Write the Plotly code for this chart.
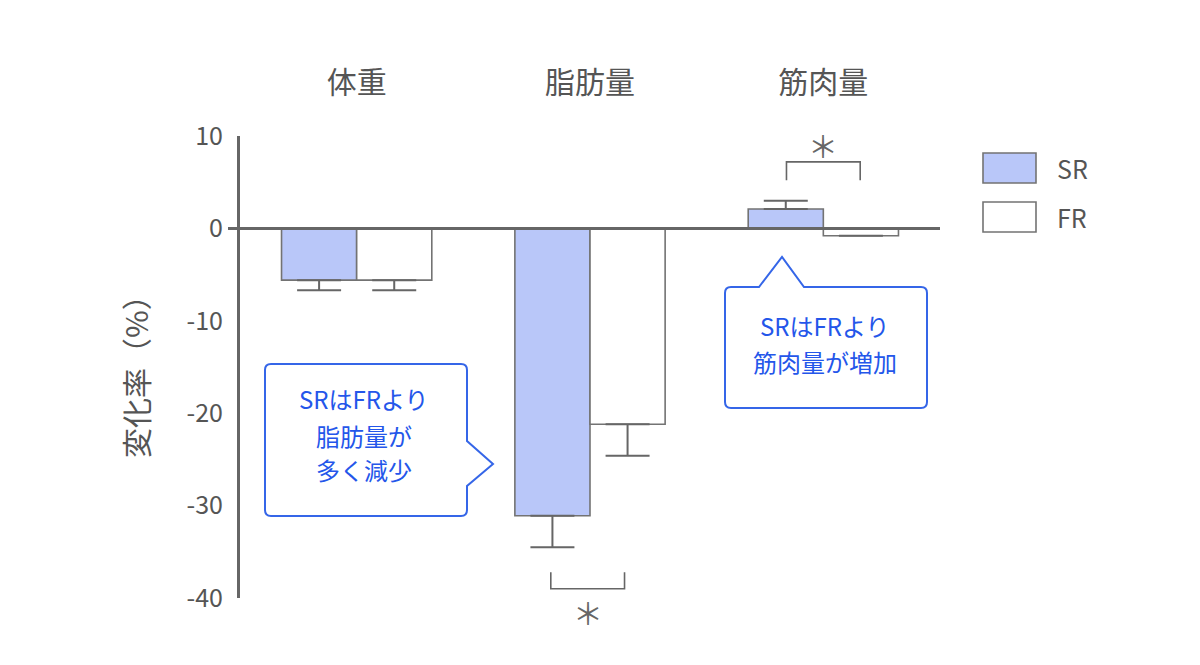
import plotly.graph_objects as go

# ---------------- data ----------------
categories = ["体重", "脂肪量", "筋肉量"]
series_names = ["SR", "FR"]
sr_values = [-5.6, -31.1, 2.1]
fr_values = [-5.6, -21.2, -0.8]
sr_errors = [1.1, 3.4, 0.9]
fr_errors = [1.1, 3.4, 0.0]
y_tick_values = [10, 0, -10, -20, -30, -40]
y_tick_labels = ["10", "0", "-10", "-20", "-30", "-40"]
y_title = "変化率（%）"
callout_fat = ["SRはFRより", "脂肪量が", "多く減少"]
callout_muscle = ["SRはFRより", "筋肉量が増加"]
sig_mark = "＊"

# ---------------- style ----------------
FONT = "Noto Sans CJK JP"
GRAY = "#666666"
TXT = "#555555"
SR_FILL = "#b9c7f9"
EDGE = "#737373"
BLUE_TXT = "#2456ea"
BLUE_LINE = "#3566e8"

OFF = 8  # default page body margin
W, H = 1200 - OFF, 665 - OFF
L, T, B = 240 - OFF, 136 - OFF, 67
PW, PH = 700, 462
R = W - L - PW


def px(x):  # page pixel -> paper
    return (x - OFF - L) / PW


def py(y):
    return (OFF + T + PH - y) / PH


def split_err(vals, errs):
    plus = [e if v >= 0 else 0 for v, e in zip(vals, errs)]
    minus = [e if v < 0 else 0 for v, e in zip(vals, errs)]
    return plus, minus


fig = go.Figure()
for name, vals, errs, fill in [
    (series_names[0], sr_values, sr_errors, SR_FILL),
    (series_names[1], fr_values, fr_errors, "white"),
]:
    plus, minus = split_err(vals, errs)
    fig.add_trace(go.Bar(
        name=name, x=categories, y=vals,
        marker=dict(color=fill, line=dict(color=EDGE, width=1.6)),
        error_y=dict(type="data", symmetric=False, array=plus, arrayminus=minus,
                     color=GRAY, thickness=2, width=22),
    ))

shapes = []
# zero line
shapes.append(dict(type="line", xref="paper", yref="y", x0=px(228), x1=px(940), y0=0, y1=0,
                   line=dict(color=GRAY, width=3), layer="above"))

# significance brackets (category index coordinates)
shapes.append(dict(type="path", xref="x", yref="y",
                   path="M 1.842,5.2 L 1.842,7.2 L 2.158,7.2 L 2.158,5.2",
                   line=dict(color=GRAY, width=1.6)))
shapes.append(dict(type="path", xref="x", yref="y",
                   path="M 0.832,-37.2 L 0.832,-39.0 L 1.148,-39.0 L 1.148,-37.2",
                   line=dict(color=GRAY, width=1.6)))


def pathstr(points):
    out = []
    for cmd, pts in points:
        if cmd == "Z":
            out.append("Z")
        else:
            out.append(cmd + " " + " ".join(f"{px(x):.5f},{py(y):.5f}" for x, y in pts))
    return " ".join(out)


r = 6
# callout 1 (pointer right)
x0, x1, y0, y1 = 265, 467, 364, 516
c1 = [("M", [(x0 + r, y0)]), ("L", [(x1 - r, y0)]), ("Q", [(x1, y0), (x1, y0 + r)]),
      ("L", [(x1, 441)]), ("L", [(493, 464)]), ("L", [(x1, 486)]),
      ("L", [(x1, y1 - r)]), ("Q", [(x1, y1), (x1 - r, y1)]),
      ("L", [(x0 + r, y1)]), ("Q", [(x0, y1), (x0, y1 - r)]),
      ("L", [(x0, y0 + r)]), ("Q", [(x0, y0), (x0 + r, y0)]), ("Z", [])]
shapes.append(dict(type="path", xref="paper", yref="paper", path=pathstr(c1),
                   line=dict(color=BLUE_LINE, width=2), fillcolor="white", layer="above"))
# callout 2 (pointer top)
x0, x1, y0, y1 = 725, 927, 287, 408
c2 = [("M", [(x0 + r, y0)]), ("L", [(759, y0)]), ("L", [(782, 257)]), ("L", [(804, y0)]),
      ("L", [(x1 - r, y0)]), ("Q", [(x1, y0), (x1, y0 + r)]),
      ("L", [(x1, y1 - r)]), ("Q", [(x1, y1), (x1 - r, y1)]),
      ("L", [(x0 + r, y1)]), ("Q", [(x0, y1), (x0, y1 - r)]),
      ("L", [(x0, y0 + r)]), ("Q", [(x0, y0), (x0 + r, y0)]), ("Z", [])]
shapes.append(dict(type="path", xref="paper", yref="paper", path=pathstr(c2),
                   line=dict(color=BLUE_LINE, width=2), fillcolor="white", layer="above"))

# legend boxes
shapes.append(dict(type="rect", xref="paper", yref="paper", x0=px(983), x1=px(1036),
                   y0=py(183), y1=py(153), fillcolor=SR_FILL, line=dict(color=EDGE, width=1.6)))
shapes.append(dict(type="rect", xref="paper", yref="paper", x0=px(983), x1=px(1036),
                   y0=py(232), y1=py(202), fillcolor="white", line=dict(color=EDGE, width=1.6)))

annotations = []
for name, yc in zip(series_names, [168, 217]):
    annotations.append(dict(xref="paper", yref="paper", x=px(1055), y=py(yc), text=name,
                            showarrow=False, xanchor="left", yanchor="middle",
                            font=dict(family=FONT, size=25, color=TXT)))
for line, yc in zip(callout_fat, [398, 435, 469]):
    annotations.append(dict(xref="paper", yref="paper", x=px(364), y=py(yc), text=line,
                            showarrow=False, xanchor="center", yanchor="middle",
                            font=dict(family=FONT, size=24, color=BLUE_TXT)))
for line, yc in zip(callout_muscle, [325, 361]):
    annotations.append(dict(xref="paper", yref="paper", x=px(825), y=py(yc), text=line,
                            showarrow=False, xanchor="center", yanchor="middle",
                            font=dict(family=FONT, size=24, color=BLUE_TXT)))
# asterisks
annotations.append(dict(xref="x", yref="y", x=2.0, y=7.2, yshift=17, text=sig_mark,
                        showarrow=False, xanchor="center", yanchor="middle",
                        font=dict(family=FONT, size=30, color=GRAY)))
annotations.append(dict(xref="x", yref="y", x=0.99, y=-39.0, yshift=-23, text=sig_mark,
                        showarrow=False, xanchor="center", yanchor="middle",
                        font=dict(family=FONT, size=30, color=GRAY)))
# y title
annotations.append(dict(xref="paper", yref="paper", x=px(135), y=py(369), text=y_title,
                        showarrow=False, textangle=-90, xanchor="center", yanchor="middle",
                        font=dict(family=FONT, size=30, color=TXT)))

fig.update_layout(
    width=W, height=H,
    margin=dict(l=L, r=R, t=T, b=B, pad=0),
    paper_bgcolor="white", plot_bgcolor="white",
    showlegend=False,
    barmode="group", bargap=0.356, bargroupgap=0,
    shapes=shapes, annotations=annotations,
    font=dict(family=FONT, color=TXT),
    xaxis=dict(side="top", type="category", range=[-0.5, 2.5], showline=False,
               showgrid=False, zeroline=False, ticks="", ticklabelstandoff=36,
               tickfont=dict(family=FONT, size=30, color=TXT)),
    yaxis=dict(range=[-40, 10], tickvals=y_tick_values, ticktext=y_tick_labels,
               showline=True, linecolor=GRAY, linewidth=3, showgrid=False,
               zeroline=False, ticks="", ticklabelstandoff=9,
               tickfont=dict(family=FONT, size=25, color=TXT)),
)

fig.write_html("out.html")
